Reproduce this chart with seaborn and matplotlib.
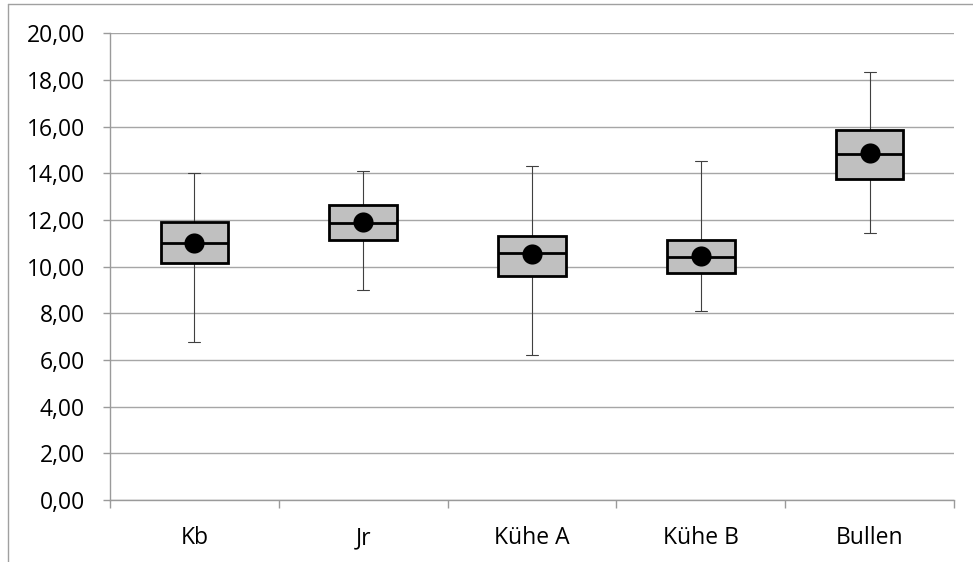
import numpy as np
import pandas as pd
import matplotlib
matplotlib.use("Agg")
import matplotlib.pyplot as plt
from matplotlib.lines import Line2D
from matplotlib.ticker import FixedLocator, FuncFormatter
import seaborn as sns

# Box statistics per group
categories = ["Kb", "Jr", "Kühe A", "Kühe B", "Bullen"]
whisker_low = [6.79, 9.00, 6.23, 8.10, 11.43]
quartile_1 = [10.17, 11.14, 9.60, 9.71, 13.74]
median = [11.00, 11.86, 10.60, 10.41, 14.81]
quartile_3 = [11.93, 12.64, 11.31, 11.13, 15.86]
whisker_high = [14.00, 14.10, 14.33, 14.53, 18.33]
mean = [11.03, 11.90, 10.54, 10.46, 14.86]

y_ticks = [0, 2, 4, 6, 8, 10, 12, 14, 16, 18, 20]

# Five summary values per group: with whiskers spanning min..max, the box
# of five points sits exactly on the second / third / fourth value.
rows = []
for cat, lo, q1, md, q3, hi in zip(categories, whisker_low, quartile_1,
                                    median, quartile_3, whisker_high):
    for v in (lo, q1, md, q3, hi):
        rows.append({"group": cat, "value": v})
summary = pd.DataFrame(rows)
means = pd.DataFrame({"group": categories, "value": mean})

sns.set_theme(style="white")
plt.rcParams["font.family"] = ["Open Sans", "DejaVu Sans"]

W, H = 973, 562
fig = plt.figure(figsize=(W / 100, H / 100), dpi=100)
ax = fig.add_axes([110 / W, 1 - 500 / H, (954 - 110) / W, (500 - 33.3) / H])

grid_col = "#a6a6a6"
axis_col = "#9a9a9a"

sns.boxplot(
    data=summary, x="group", y="value", order=categories, ax=ax,
    whis=(0, 100), width=0.4, color="#c0c0c0", linecolor="black",
    linewidth=2.0, fliersize=0, capwidths=0.07,
    boxprops=dict(facecolor="#c0c0c0", edgecolor="black", linewidth=2.0, zorder=3),
    medianprops=dict(color="black", linewidth=2.0, zorder=4),
    whiskerprops=dict(color="#404040", linewidth=0.8, zorder=2),
    capprops=dict(color="#404040", linewidth=0.8, zorder=2),
)

sns.scatterplot(data=means, x="group", y="value", ax=ax, color="black",
                s=210, edgecolor="black", linewidth=0, zorder=5, legend=False)

ax.set_xlim(-0.5, len(categories) - 0.5)
ax.set_ylim(0, 20)
ax.set_xlabel("")
ax.set_ylabel("")

ax.yaxis.set_major_locator(FixedLocator(y_ticks))
ax.yaxis.set_major_formatter(FuncFormatter(lambda v, p: f"{v:.2f}".replace(".", ",")))
ax.yaxis.grid(True, color=grid_col, linewidth=1.0)
ax.set_axisbelow(True)

ax.set_xticks(range(len(categories)))
ax.set_xticklabels(categories)
ax.xaxis.set_minor_locator(FixedLocator(np.arange(-0.5, len(categories), 1.0)))
ax.tick_params(axis="x", which="major", length=0, pad=19, labelsize=16.5,
               labelcolor="black")
ax.tick_params(axis="x", which="minor", length=6, width=1.0, color=axis_col,
               bottom=True)
ax.tick_params(axis="y", which="major", length=5, width=1.0, color=axis_col,
               pad=13, labelsize=16.5, labelcolor="black", left=True)

for side in ("top", "right"):
    ax.spines[side].set_visible(False)
for side in ("left", "bottom"):
    ax.spines[side].set_color(axis_col)
    ax.spines[side].set_linewidth(1.0)

# Outer chart frame (left and top edges)
fig.add_artist(Line2D([7.5 / W, 7.5 / W], [0, 1 - 3.5 / H],
                      transform=fig.transFigure, color="#a0a0a0", linewidth=1.0))
fig.add_artist(Line2D([7.5 / W, 1], [1 - 3.5 / H, 1 - 3.5 / H],
                      transform=fig.transFigure, color="#a0a0a0", linewidth=1.0))

fig.savefig("out.png", dpi=100, facecolor="white")
